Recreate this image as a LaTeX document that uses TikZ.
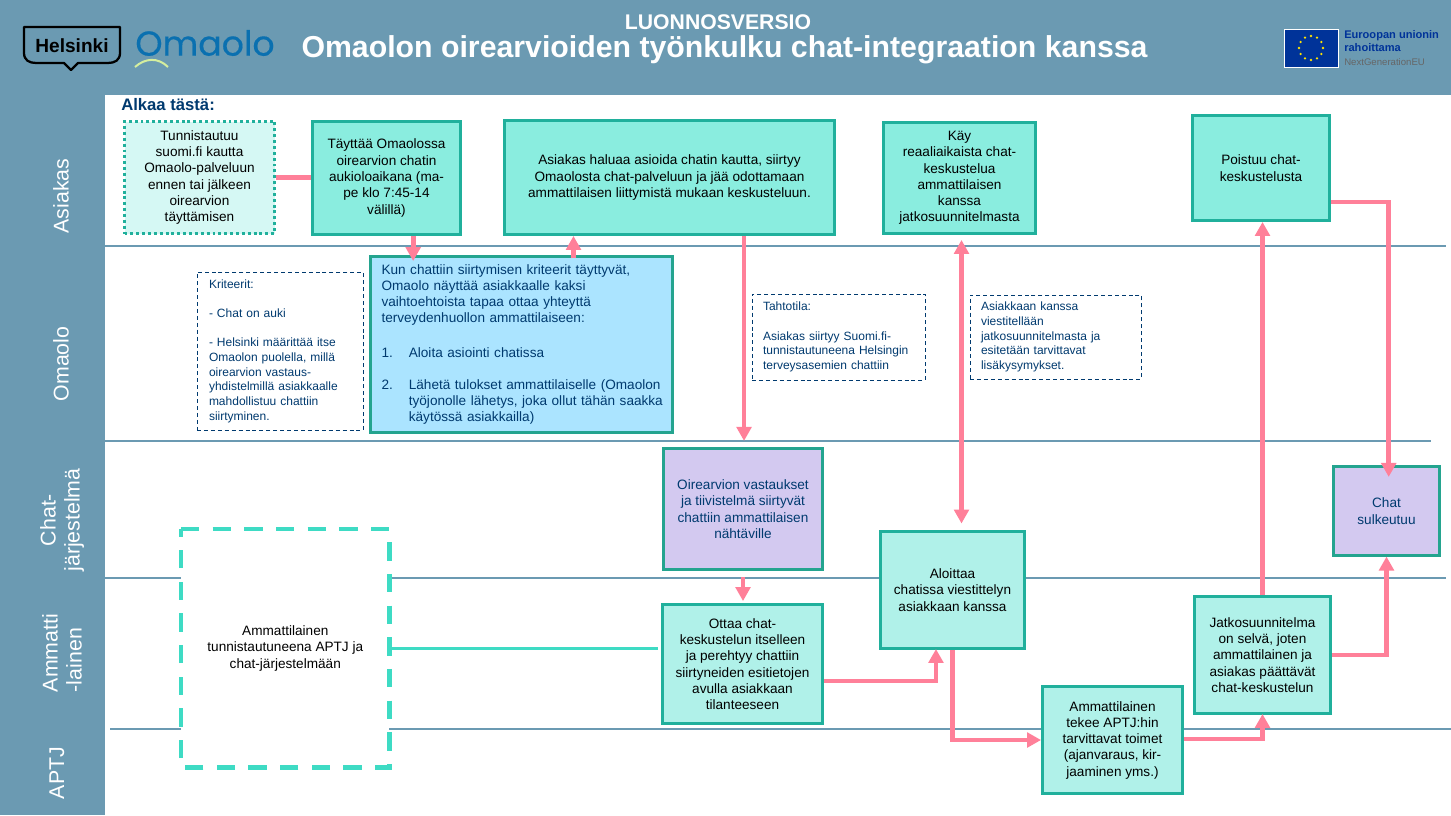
\documentclass[tikz,border=0pt]{standalone}
\usepackage{fontspec}
\setmainfont{Liberation Sans}
\newfontfamily\logofont[FakeBold=0.4]{Poppins}
\usetikzlibrary{arrows.meta}
\definecolor{bandblue}{HTML}{6B9AB2}
\definecolor{flowpink}{HTML}{FF8099}
\definecolor{boxedge}{HTML}{20B09C}
\definecolor{bluedge}{HTML}{24A48F}
\definecolor{darkteal}{HTML}{8AEDDF}
\definecolor{lightteal}{HTML}{B0F1E9}
\definecolor{paleteal}{HTML}{D5F8F4}
\definecolor{skyfill}{HTML}{ABE4FF}
\definecolor{lilac}{HTML}{D3C9F0}
\definecolor{navytext}{HTML}{003A6F}
\definecolor{turq}{HTML}{3EDBC4}
\definecolor{eublue}{HTML}{003399}
\definecolor{omaoloblue}{HTML}{0A70B0}
\definecolor{omaololime}{HTML}{D5EE9E}
\tikzset{
  boxsize/.style 2 args={minimum width=#1*0.75pt, minimum height=#2*0.75pt, inner sep=0pt},
  flowbox/.style={draw=boxedge, line width=2.2pt, align=center, font=\fontsize{10.2}{12.2}\selectfont},
  notebox/.style={draw=navytext, line width=0.7pt, dash pattern=on 3pt off 2.2pt, text=navytext, align=left, font=\fontsize{9}{11}\selectfont},
  lanelabel/.style={rotate=90, white, align=center, font=\fontsize{16}{18}\selectfont},
  laneline/.style={draw=bandblue, line width=1.1pt},
  flowline/.style={draw=flowpink, line width=3.5pt},
  flowarrow/.style={flowline, -{Triangle[width=11pt,length=10.5pt]}},
}
\begin{document}
\begin{tikzpicture}[x=0.75pt,y=-0.75pt]
  \useasboundingbox (0,0) rectangle (1451,815);
  \fill[white] (0,0) rectangle (1451,815);
  \fill[bandblue] (0,0) rectangle (1451,95);
  \fill[bandblue] (0,0) rectangle (105,815);
  % swimlanes
  \draw[laneline] (105,246) -- (1446,246);
  \draw[laneline] (105,441) -- (1431,441);
  \draw[laneline] (105,578) -- (1446,578);
  \draw[laneline] (110,729) -- (1451,729);
  \node[lanelabel] (asiakas) at (61,196) {Asiakas};
  \node[lanelabel] (omaolo) at (61,364) {Omaolo};
  \node[lanelabel] (chatlane) at (62,520) {Chat-\\järjestelmä};
  \node[lanelabel, align=left] (ammlane) at (62,653) {Ammatti\\-lainen};
  \node[lanelabel] (aptj) at (57,773) {APTJ};
  % header
  \draw[black, line width=1.7pt, line join=round] (24,27) -- (120,27) -- (120,53)
    .. controls (120,60) and (115,63) .. (108,63) -- (78,63) -- (71,70) -- (64,63) -- (36,63)
    .. controls (29,63) and (24,60) .. (24,53) -- cycle;
  \node[font=\bfseries\fontsize{14.3}{16}\selectfont] (helsinki) at (72,46) {Helsinki};
  \node[text=omaoloblue, font=\logofont\fontsize{26}{30}\selectfont] (omaololab) at (205,43) {Omaolo};
  \draw[draw=omaololime, line width=1.5pt] (135,67) .. controls (145,58) and (158,57) .. (168,67);
  \node[white, font=\bfseries\fontsize{15.9}{18}\selectfont] (luonnos) at (718,22) {LUONNOSVERSIO};
  \node[white, font=\bfseries\fontsize{22.7}{25}\selectfont] (title) at (724.5,50) {Omaolon oirearvioiden työnkulku chat-integraation kanssa};
  \draw[fill=eublue, draw=white, line width=0.7pt] (1284,29) rectangle (1338,67);
  \foreach \a in {0,30,...,330}
    \fill[yellow!85!orange] (1311,48) ++(\a:12) circle (1.3);
  \node[anchor=west, inner sep=0pt, align=left, text=eublue, font=\bfseries\fontsize{8.3}{10}\selectfont] (eutext) at (1344,41) {Euroopan unionin\\rahoittama};
  \node[anchor=west, inner sep=0pt, text=black!60, font=\fontsize{7.2}{9}\selectfont] (nextgen) at (1344,62) {NextGenerationEU};
  \node[anchor=west, inner sep=0pt, text=navytext, font=\bfseries\fontsize{12.5}{14}\selectfont] (alkaa) at (121,105) {Alkaa tästä:};
  % boxes
  \node[flowbox, boxsize={150}{112}, fill=paleteal, dash pattern=on 2.2pt off 2.2pt] (tunnis) at (199.5,177.5)
    {Tunnistautuu\\suomi.fi kautta\\Omaolo-palveluun\\ennen tai jälkeen\\oirearvion\\täyttämisen};
  \node[flowbox, boxsize={148}{113}, fill=darkteal] (tayttaa) at (386.5,178)
    {Täyttää Omaolossa\\oirearvion chatin\\aukioloaikana (ma-\\pe klo 7:45-14\\välillä)};
  \node[flowbox, boxsize={330}{114}, fill=darkteal] (haluaa) at (669.5,177.5)
    {Asiakas haluaa asioida chatin kautta, siirtyy\\Omaolosta chat-palveluun ja jää odottamaan\\ammattilaisen liittymistä mukaan keskusteluun.};
  \node[flowbox, boxsize={152}{111}, fill=darkteal] (kay) at (959.5,178)
    {Käy\\reaaliaikaista chat-\\keskustelua\\ammattilaisen\\kanssa\\jatkosuunnitelmasta};
  \node[flowbox, boxsize={137}{105}, fill=darkteal] (poistuu) at (1261,168)
    {Poistuu chat-\\keskustelusta};
  \node[flowbox, boxsize={302}{176}, fill=skyfill, draw=bluedge, line width=1.6pt, text=navytext, align=left, text width=210pt] (kun) at (521.5,344.5)
    {Kun chattiin siirtymisen kriteerit täyttyvät,\\Omaolo näyttää asiakkaalle kaksi\\vaihtoehtoista tapaa ottaa yhteyttä\\terveydenhuollon ammattilaiseen:\\[13.5pt]
     \makebox[20.5pt][l]{1.}Aloita asiointi chatissa\\[12pt]
     \makebox[20.5pt][l]{2.}Lähetä tulokset ammattilaiselle (Omaolon\\\hspace*{20.5pt}\makebox[189.5pt][l]{työjonolle lähetys, joka ollut tähän saakka}\\\hspace*{20.5pt}käytössä asiakkailla)};
  \node[notebox, boxsize={166}{158}, text width=106.5pt] (kriteerit) at (280,351)
    {Kriteerit:\\[11pt]- Chat on auki\\[11pt]- Helsinki määrittää itse\\Omaolon puolella, millä\\oirearvion vastaus-\\yhdistelmillä asiakkaalle\\mahdollistuu chattiin\\siirtyminen.};
  \node[notebox, boxsize={173}{86}, text width=113.25pt] (tahtotila) at (838.5,337)
    {Tahtotila:\\[11pt]Asiakas siirtyy Suomi.fi-\\tunnistautuneena Helsingin\\terveysasemien chattiin};
  \node[notebox, boxsize={171}{84}, text width=111.75pt] (lisakys) at (1055.5,337)
    {Asiakkaan kanssa\\viestitellään\\jatkosuunnitelmasta ja\\esitetään tarvittavat\\lisäkysymykset.};
  \node[flowbox, boxsize={159}{121}, fill=lilac, line width=1.6pt, draw=bluedge, text=navytext] (vastaukset) at (743,509)
    {Oirearvion vastaukset\\ja tiivistelmä siirtyvät\\chattiin ammattilaisen\\nähtäville};
  \node[flowbox, boxsize={160}{119}, fill=lightteal] (ottaa) at (742.5,664)
    {Ottaa chat-\\keskustelun itselleen\\ja perehtyy chattiin\\siirtyneiden esitietojen\\avulla asiakkaan\\tilanteeseen};
  \node[flowbox, boxsize={144}{117}, fill=lightteal] (aloittaa) at (952.5,590)
    {Aloittaa\\chatissa viestittelyn\\asiakkaan kanssa};
  \node[fill=white, align=center, boxsize={208}{238}, font=\fontsize{10.2}{12.2}\selectfont] (ammtunn) at (285.3,648.3)
    {Ammattilainen\\tunnistautuneena APTJ ja\\chat-järjestelmään};
  \draw[draw=turq, line width=3.5pt, dash pattern=on 13.75pt off 10pt] (ammtunn.north west) -- (ammtunn.north east) -- (ammtunn.south east) -- (ammtunn.south west) -- cycle;
  \node[flowbox, boxsize={136}{117}, fill=lightteal] (jatko) at (1262.5,655)
    {Jatkosuunnitelma\\on selvä, joten\\ammattilainen ja\\asiakas päättävät\\chat-keskustelun};
  \node[flowbox, boxsize={140}{107}, fill=lightteal] (tekee) at (1112.5,740)
    {Ammattilainen\\tekee APTJ:hin\\tarvittavat toimet\\(ajanvaraus, kir-\\jaaminen yms.)};
  \node[flowbox, boxsize={106}{89}, fill=lilac, line width=1.6pt, draw=bluedge, text=navytext] (sulkeutuu) at (1386.5,511)
    {Chat\\sulkeutuu};
  % connectors
  \draw[flowline] (tunnis.east) -- (tunnis.east -| tayttaa.west);
  \draw[draw=turq, line width=2.5pt, shorten >=2pt] (ammtunn.east) -- (ammtunn.east -| ottaa.west);
  \draw[flowarrow, shorten >=-4.2pt] ([xshift=20pt]tayttaa.south) -- ([xshift=20pt]tayttaa.south |- kun.north);
  \draw[flowarrow, shorten <=-2pt] ([xshift=39pt]kun.north) -- ([xshift=39pt]kun.north |- haluaa.south);
  \draw[flowarrow, shorten >=4.9pt] ([xshift=55.9pt]haluaa.south) -- ([xshift=55.9pt]haluaa.south |- vastaukset.north);
  \draw[flowline, {Triangle[width=11pt,length=10.5pt]}-{Triangle[width=11pt,length=10.5pt]}, shorten <=3.75pt, shorten >=4.9pt] ([xshift=1.5pt]kay.south) -- ([xshift=1.5pt]kay.south |- aloittaa.north);
  \draw[flowarrow, shorten <=4.9pt, shorten >=1.5pt] (vastaukset.south) -- (vastaukset.south |- ottaa.north);
  \draw[flowarrow, shorten >=-0.75pt] ([yshift=-12.75pt]ottaa.east) -| ([xshift=-12.4pt]aloittaa.south);
  \draw[flowarrow] (aloittaa.south) |- (tekee.west);
  \draw[flowarrow, shorten >=-0.75pt] ([yshift=0.75pt]tekee.east) -| (jatko.south);
  \draw[flowarrow] (jatko.north) -- (jatko.north |- poistuu.south);
  \draw[flowarrow, shorten >=-8.6pt] ([yshift=-25.5pt]poistuu.east) -| ([xshift=1.65pt]sulkeutuu.north);
  \draw[flowarrow] (jatko.east) -| (sulkeutuu.south);
\end{tikzpicture}
\end{document}
